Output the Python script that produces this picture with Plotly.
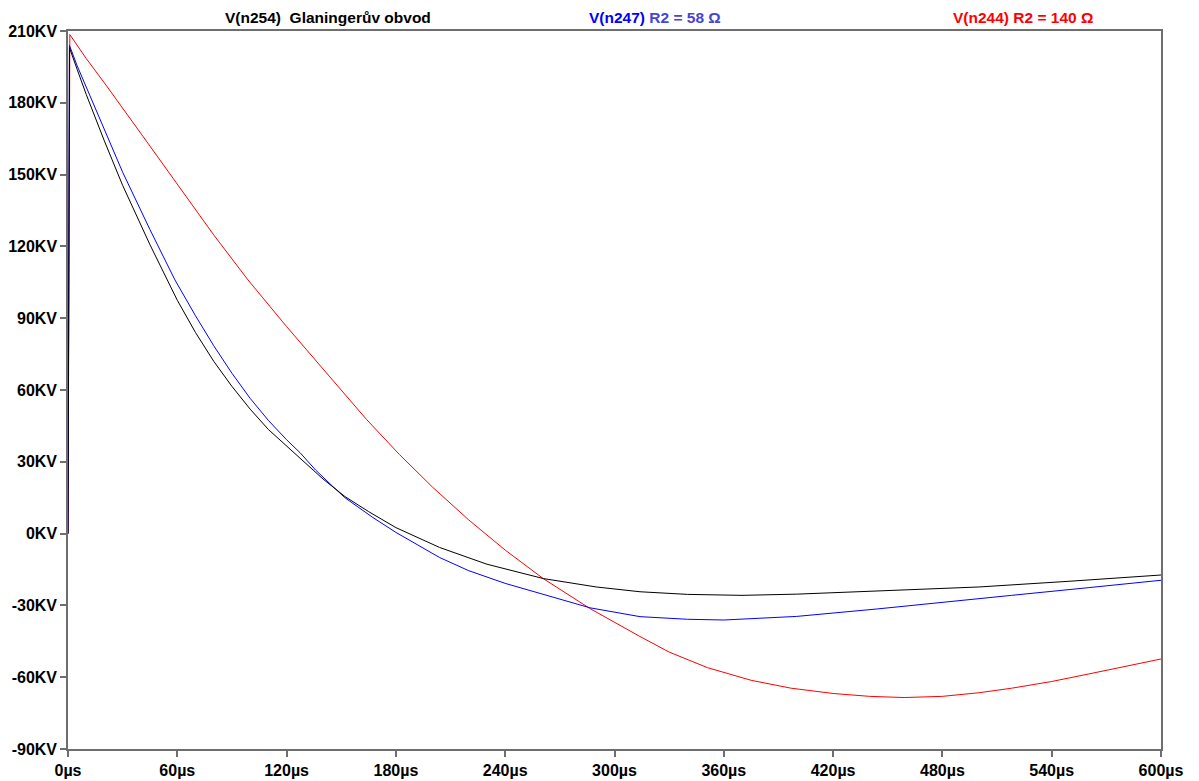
import plotly.graph_objects as go

# time in microseconds, voltage in kV
t_black = [0, 0.8, 5, 10, 20, 30, 45, 54, 60, 70, 80, 90, 100, 110, 120, 127, 140, 152, 165, 180, 204, 230, 261, 290, 314, 340, 370, 400, 440, 500, 550, 600]
v_black = [0, 203, 194, 183.5, 164, 145.5, 120.7, 106.5, 97.5, 84, 72, 61.5, 52, 43.5, 36.5, 31.7, 22.8, 15.5, 9.2, 2.5, -5.8, -12.8, -18.8, -22.3, -24.3, -25.4, -25.8, -25.3, -24.2, -22.3, -19.9, -17.3]

t_blue = [0, 0.8, 5, 10, 20, 30, 45, 58.7, 70, 80, 90, 100, 110, 120, 127.4, 136, 145.5, 152, 167.4, 180, 204, 220, 240, 265, 286.5, 314, 340, 360, 400, 444, 480, 518, 560, 600]
v_blue = [0, 204, 195.5, 186.5, 168.3, 151, 127, 106, 91, 78.5, 67, 56.5, 47.3, 39.2, 33.8, 26.5, 19.6, 15, 6.7, 0.5, -10, -15.5, -20.8, -26.3, -31.0, -34.7, -35.8, -36.1, -34.6, -31.5, -28.6, -25.8, -22.6, -19.5]

t_red = [0, 1, 10, 20, 40, 65.9, 80, 98.8, 120, 140, 164, 182, 200, 220, 240, 260.7, 286.5, 314, 330, 351, 375, 397, 420, 440, 459, 480, 500, 518, 540, 560, 580, 600]
v_red = [0, 208.5, 198.5, 188.3, 167.2, 139.5, 124.8, 106, 86.5, 68.8, 47.6, 33, 19.5, 5.7, -6.9, -18.7, -31.3, -43, -49.5, -56, -61.3, -64.6, -66.8, -68.0, -68.5, -68.0, -66.5, -64.6, -61.8, -58.7, -55.6, -52.4]

x_ticks = [0, 60, 120, 180, 240, 300, 360, 420, 480, 540, 600]
x_labels = [f"{v}µs" for v in x_ticks]
y_ticks = [-90, -60, -30, 0, 30, 60, 90, 120, 150, 180, 210]
y_labels = [f"{v}KV" for v in y_ticks]

fig = go.Figure()
fig.add_trace(go.Scatter(x=t_red, y=v_red, mode="lines", line=dict(color="#ff0000", width=1), name="V(n244)"))
fig.add_trace(go.Scatter(x=t_blue, y=v_blue, mode="lines", line=dict(color="#0000ff", width=1), name="V(n247)"))
fig.add_trace(go.Scatter(x=t_black, y=v_black, mode="lines", line=dict(color="#000000", width=1), name="V(n254)"))

FAM = "Liberation Sans, Arial, sans-serif"
L, R = 68, 1161

def px(p):
    return (p - L) / (R - L)

axis_common = dict(showgrid=False, zeroline=False, showline=True, linecolor="#6e6e6e", linewidth=1.5,
                   mirror=True, ticks="outside", ticklen=6, tickcolor="#6e6e6e", tickwidth=1.5,
                   tickfont=dict(family=FAM, size=16, color="#000", weight="bold"),
                   fixedrange=True, automargin=False)

fig.update_layout(
    width=1199, height=781,
    margin=dict(l=68, r=38, t=31, b=32),
    paper_bgcolor="white", plot_bgcolor="white",
    showlegend=False,
    font=dict(family=FAM, size=16, color="#000"),
    xaxis=dict(range=[0, 600], tickvals=x_ticks, ticktext=x_labels, **axis_common),
    yaxis=dict(range=[-90, 210], tickvals=y_ticks, ticktext=y_labels, **axis_common),
    annotations=[
        dict(xref="paper", yref="paper", x=px(327.5), y=1 + 14 / 718, xanchor="center", yanchor="middle",
             showarrow=False, text="<b>V(n254)  Glaningerův obvod</b>",
             font=dict(family=FAM, size=15.5, color="#000000")),
        dict(xref="paper", yref="paper", x=px(655), y=1 + 14 / 718, xanchor="center", yanchor="middle",
             showarrow=False,
             text="<b><span style='color:#0000ff'>V(n247)</span> <span style='color:#4646d2'>R2 = 58 Ω</span></b>",
             font=dict(family=FAM, size=15.5, color="#0000ff")),
        dict(xref="paper", yref="paper", x=px(1022.5), y=1 + 14 / 718, xanchor="center", yanchor="middle",
             showarrow=False, text="<b>V(n244) R2 = 140 Ω</b>",
             font=dict(family=FAM, size=15.5, color="#ff0000")),
    ],
)

fig.write_html("out.html")
